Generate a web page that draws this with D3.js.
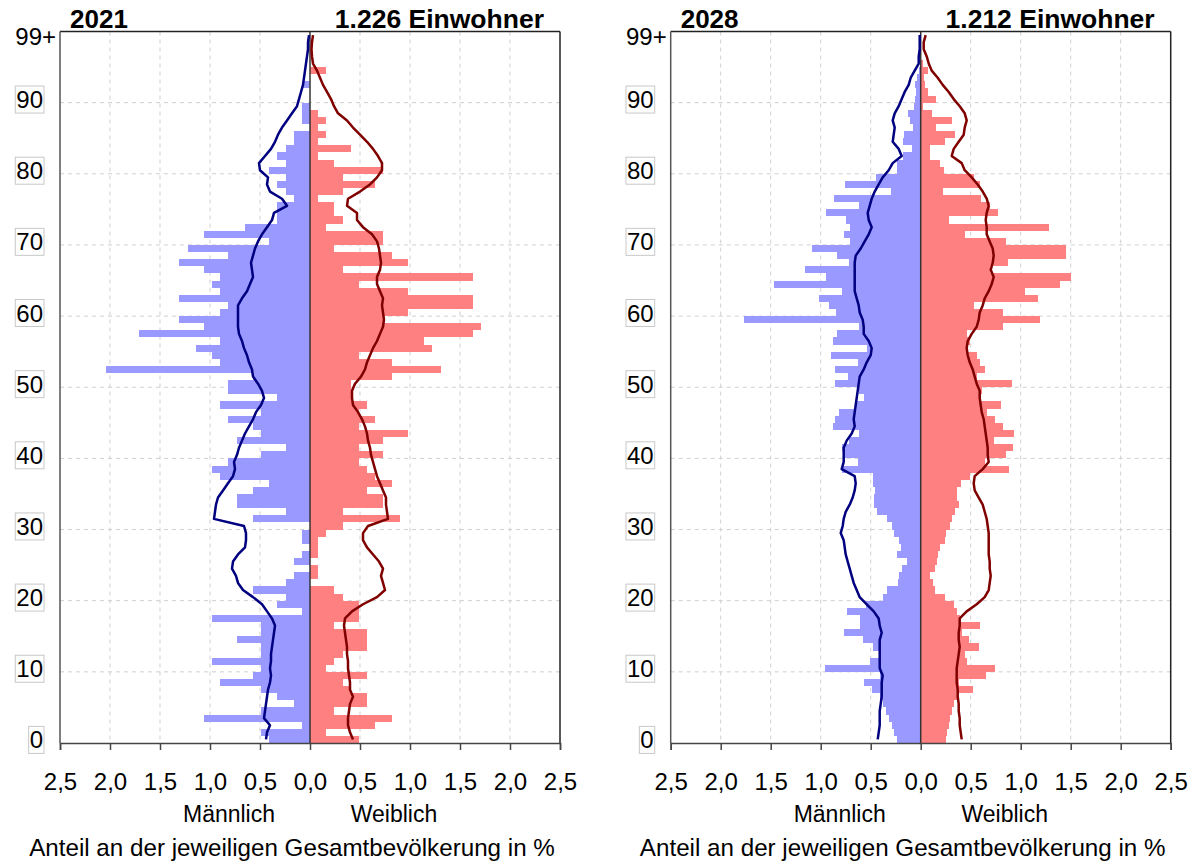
<!DOCTYPE html>
<html>
<head>
<meta charset="utf-8">
<script src="https://cdn.jsdelivr.net/npm/d3@7"></script>
<style>
  body { margin: 0; background: #fff; }
  text { font-family: "Liberation Sans", Arial, sans-serif; fill: #000; }
</style>
</head>
<body>
<div id="chart"></div>
<script>
// ages 0..99 (99 = 99+)
const ages = d3.range(0, 100);
const ageTicks = [0, 10, 20, 30, 40, 50, 60, 70, 80, 90];
const shareTicks = [-2.5, -2, -1.5, -1, -0.5, 0, 0.5, 1, 1.5, 2, 2.5];

// 2021: persons per age year (1.226 Einwohner)
const total2021 = 1226;
const male2021 = [
  5, 6, 1, 13, 6, 2, 4, 6, 11, 7,
  6, 12, 6, 6, 9, 6, 6, 12, 1, 4,
  3, 7, 3, 2, 0, 2, 1, 0, 1, 1,
  0, 7, 3, 9, 9, 7, 5, 11, 12, 10,
  6, 3, 9, 6, 7, 10, 6, 11, 4, 10,
  10, 7, 25, 11, 12, 14, 11, 21, 13, 16,
  11, 10, 16, 11, 12, 11, 13, 16, 10, 15,
  5, 13, 8, 4, 4, 4, 2, 3, 4, 3,
  5, 3, 4, 3, 2, 2, 0, 1, 1, 1,
  0, 0, 1, 0, 0, 0, 0, 0, 0, 0
];
const female2021 = [
  6, 2, 8, 10, 3, 7, 7, 5, 4, 7,
  2, 3, 4, 7, 7, 7, 3, 6, 6, 6,
  4, 3, 0, 1, 1, 0, 1, 1, 1, 2,
  4, 11, 4, 9, 9, 7, 10, 8, 7, 6,
  9, 6, 9, 12, 6, 8, 6, 7, 5, 5,
  5, 10, 16, 10, 6, 15, 14, 20, 21, 9,
  12, 20, 20, 12, 6, 20, 4, 12, 10, 3,
  9, 9, 2, 4, 3, 3, 1, 4, 8, 4,
  9, 3, 1, 5, 1, 2, 1, 2, 1, 0,
  0, 0, 0, 0, 2, 0, 0, 0, 0, 0
];
// comparison profile 2021 (share in %)
const refMale2021 = [
  0.44, 0.43, 0.40, 0.46, 0.45, 0.44, 0.43, 0.42, 0.40, 0.39,
  0.40, 0.39, 0.39, 0.38, 0.37, 0.36, 0.35, 0.38, 0.43, 0.48,
  0.57, 0.67, 0.72, 0.74, 0.78, 0.77, 0.72, 0.65, 0.64, 0.64,
  0.66, 0.96, 0.95, 0.94, 0.92, 0.87, 0.82, 0.77, 0.75, 0.76,
  0.73, 0.71, 0.68, 0.65, 0.61, 0.57, 0.54, 0.49, 0.46, 0.48,
  0.52, 0.57, 0.58, 0.61, 0.63, 0.66, 0.68, 0.71, 0.72, 0.72,
  0.72, 0.72, 0.68, 0.63, 0.60, 0.57, 0.58, 0.59, 0.57, 0.55,
  0.52, 0.48, 0.43, 0.38, 0.36, 0.23, 0.28, 0.40, 0.43, 0.42,
  0.50, 0.51, 0.45, 0.39, 0.35, 0.32, 0.28, 0.23, 0.18, 0.13,
  0.11, 0.09, 0.07, 0.06, 0.05, 0.04, 0.03, 0.02, 0.02, 0.01
];
const refFemale2021 = [
  0.43, 0.40, 0.38, 0.38, 0.39, 0.40, 0.43, 0.40, 0.40, 0.39,
  0.38, 0.38, 0.37, 0.37, 0.36, 0.35, 0.34, 0.35, 0.42, 0.53,
  0.67, 0.75, 0.73, 0.71, 0.73, 0.69, 0.63, 0.57, 0.53, 0.53,
  0.58, 0.78, 0.77, 0.76, 0.76, 0.73, 0.70, 0.67, 0.65, 0.63,
  0.61, 0.60, 0.58, 0.57, 0.55, 0.52, 0.48, 0.43, 0.42, 0.42,
  0.45, 0.51, 0.55, 0.57, 0.60, 0.63, 0.67, 0.70, 0.73, 0.74,
  0.73, 0.72, 0.73, 0.70, 0.67, 0.67, 0.70, 0.71, 0.70, 0.69,
  0.67, 0.62, 0.53, 0.47, 0.47, 0.37, 0.38, 0.50, 0.60, 0.67,
  0.72, 0.72, 0.68, 0.63, 0.57, 0.50, 0.43, 0.37, 0.28, 0.24,
  0.21, 0.17, 0.13, 0.10, 0.07, 0.03, 0.02, 0.015, 0.02, 0.03
];

// 2028: projected share in % (1.212 Einwohner)
const male2028 = [
  0.24, 0.27, 0.29, 0.32, 0.35, 0.38, 0.41, 0.49, 0.57, 0.41,
  0.96, 0.51, 0.42, 0.48, 0.58, 0.77, 0.61, 0.61, 0.74, 0.55,
  0.38, 0.34, 0.23, 0.22, 0.19, 0.14, 0.24, 0.20, 0.22, 0.27,
  0.29, 0.34, 0.44, 0.47, 0.47, 0.46, 0.48, 0.48, 0.79, 0.63,
  0.77, 0.79, 0.72, 0.62, 0.88, 0.86, 0.82, 0.66, 0.57, 0.62,
  0.86, 0.73, 0.86, 0.63, 0.90, 0.54, 0.88, 0.84, 0.62, 1.77,
  0.85, 0.92, 1.02, 0.79, 1.47, 0.95, 1.16, 0.72, 0.84, 1.09,
  0.71, 0.77, 0.71, 0.75, 0.95, 0.62, 0.87, 0.30, 0.76, 0.45,
  0.24, 0.24, 0.18, 0.09, 0.18, 0.17, 0.08, 0.11, 0.13, 0.07,
  0.06, 0.05, 0.06, 0.04, 0.02, 0.01, 0, 0, 0, 0
];
const female2028 = [
  0.25, 0.26, 0.28, 0.29, 0.31, 0.33, 0.36, 0.52, 0.38, 0.65,
  0.74, 0.46, 0.44, 0.58, 0.48, 0.41, 0.59, 0.39, 0.36, 0.33,
  0.24, 0.14, 0.12, 0.09, 0.14, 0.16, 0.17, 0.19, 0.24, 0.25,
  0.29, 0.31, 0.34, 0.38, 0.36, 0.36, 0.40, 0.49, 0.88, 0.64,
  0.85, 0.92, 0.73, 0.93, 0.82, 0.74, 0.66, 0.80, 0.60, 0.61,
  0.91, 0.56, 0.64, 0.59, 0.56, 0.46, 0.49, 0.46, 0.82, 1.19,
  0.82, 0.53, 1.17, 1.04, 1.39, 1.50, 0.69, 0.87, 1.45, 1.45,
  0.85, 0.44, 1.28, 0.28, 0.77, 0.69, 0.60, 0.22, 0.59, 0.53,
  0.23, 0.19, 0.09, 0.09, 0.24, 0.34, 0.15, 0.31, 0.11, 0.02,
  0.15, 0.07, 0.04, 0.03, 0.07, 0.02, 0, 0, 0, 0
];
const refMale2028 = [
  0.43, 0.42, 0.41, 0.41, 0.41, 0.40, 0.39, 0.39, 0.39, 0.38,
  0.41, 0.41, 0.41, 0.41, 0.41, 0.39, 0.41, 0.42, 0.47, 0.54,
  0.61, 0.64, 0.67, 0.69, 0.71, 0.73, 0.75, 0.76, 0.77, 0.80,
  0.78, 0.77, 0.75, 0.71, 0.68, 0.66, 0.65, 0.66, 0.79, 0.77,
  0.77, 0.77, 0.74, 0.69, 0.66, 0.67, 0.66, 0.65, 0.64, 0.63,
  0.62, 0.61, 0.57, 0.54, 0.50, 0.49, 0.52, 0.57, 0.57, 0.58,
  0.61, 0.62, 0.64, 0.66, 0.66, 0.66, 0.66, 0.66, 0.65, 0.60,
  0.56, 0.52, 0.49, 0.52, 0.53, 0.51, 0.49, 0.46, 0.42, 0.38,
  0.32, 0.28, 0.19, 0.22, 0.28, 0.27, 0.26, 0.28, 0.26, 0.22,
  0.19, 0.16, 0.12, 0.10, 0.06, 0.02, 0.02, 0.01, 0.01, 0.01
];
const refFemale2028 = [
  0.41, 0.40, 0.39, 0.39, 0.38, 0.38, 0.37, 0.37, 0.36, 0.36,
  0.36, 0.37, 0.38, 0.39, 0.38, 0.38, 0.39, 0.39, 0.46, 0.56,
  0.64, 0.68, 0.69, 0.70, 0.69, 0.69, 0.68, 0.68, 0.68, 0.68,
  0.67, 0.66, 0.64, 0.62, 0.58, 0.54, 0.53, 0.54, 0.62, 0.68,
  0.67, 0.67, 0.66, 0.65, 0.64, 0.63, 0.61, 0.60, 0.59, 0.59,
  0.56, 0.54, 0.52, 0.49, 0.47, 0.46, 0.47, 0.51, 0.56, 0.58,
  0.59, 0.62, 0.64, 0.68, 0.71, 0.73, 0.70, 0.72, 0.73, 0.72,
  0.69, 0.66, 0.66, 0.65, 0.66, 0.68, 0.66, 0.62, 0.57, 0.51,
  0.44, 0.41, 0.31, 0.33, 0.38, 0.43, 0.44, 0.46, 0.44, 0.39,
  0.33, 0.28, 0.22, 0.17, 0.11, 0.08, 0.06, 0.03, 0.03, 0.05
];

const width = 1200,
  height = 862;

const plotTop = 31.5,
  plotBottom = 743,
  plotWidth = 500;

const maleColor = '#9999ff',
  femaleColor = '#ff8080',
  maleLine = '#000080',
  femaleLine = '#800000';

const svg = d3.select('#chart')
  .append('svg')
  .attr('width', width)
  .attr('height', height);

const panels = [
  {
    left: 60,
    year: '2021',
    residents: '1.226 Einwohner',
    male: male2021.map(function (c) { return c / total2021 * 100; }),
    female: female2021.map(function (c) { return c / total2021 * 100; }),
    refMale: refMale2021,
    refFemale: refFemale2021
  },
  {
    left: 670.7,
    year: '2028',
    residents: '1.212 Einwohner',
    male: male2028,
    female: female2028,
    refMale: refMale2028,
    refFemale: refFemale2028
  }
];

panels.forEach(drawPyramid);

///////////////////////////////////////////////////////////////////////////
//////////////////////////// One pyramid //////////////////////////////////
///////////////////////////////////////////////////////////////////////////

function drawPyramid(p) {

  const x = d3.scaleLinear()
    .domain([-2.5, 2.5])
    .range([p.left, p.left + plotWidth]);

  const y = d3.scaleLinear()
    .domain([0, 100])
    .range([plotBottom, plotTop]);

  const cx = x(0);
  const g = svg.append('g');

  //Dashed grid
  g.selectAll('.vgrid')
    .data(shareTicks.filter(function (d) { return d !== 0 && Math.abs(d) !== 2.5; }))
    .enter().append('line')
    .attr('x1', function (d) { return x(d); })
    .attr('x2', function (d) { return x(d); })
    .attr('y1', plotTop)
    .attr('y2', plotBottom)
    .attr('stroke', '#cfcfcf')
    .attr('stroke-width', 1)
    .attr('stroke-dasharray', '4,4');

  g.selectAll('.hgrid')
    .data(ageTicks.filter(function (d) { return d > 0; }))
    .enter().append('line')
    .attr('x1', x(-2.5))
    .attr('x2', x(2.5))
    .attr('y1', function (d) { return y(d); })
    .attr('y2', function (d) { return y(d); })
    .attr('stroke', '#cfcfcf')
    .attr('stroke-width', 1)
    .attr('stroke-dasharray', '4,4');

  //Bars
  g.selectAll('.maleBar')
    .data(ages)
    .enter().append('rect')
    .attr('x', function (d) { return x(-p.male[d]); })
    .attr('width', function (d) { return cx - x(-p.male[d]); })
    .attr('y', function (d) { return y(d + 1); })
    .attr('height', function (d) { return y(d) - y(d + 1); })
    .attr('shape-rendering', 'crispEdges')
    .style('fill', maleColor);

  g.selectAll('.femaleBar')
    .data(ages)
    .enter().append('rect')
    .attr('x', cx)
    .attr('width', function (d) { return x(p.female[d]) - cx; })
    .attr('y', function (d) { return y(d + 1); })
    .attr('height', function (d) { return y(d) - y(d + 1); })
    .attr('shape-rendering', 'crispEdges')
    .style('fill', femaleColor);

  //Center line
  g.append('line')
    .attr('x1', cx).attr('x2', cx)
    .attr('y1', plotTop).attr('y2', plotBottom)
    .attr('stroke', '#333')
    .attr('stroke-width', 1.5);

  //Comparison lines
  const maleLinePath = d3.line()
    .x(function (d) { return x(-p.refMale[d]); })
    .y(function (d) { return y(d + 0.5); });

  const femaleLinePath = d3.line()
    .x(function (d) { return x(p.refFemale[d]); })
    .y(function (d) { return y(d + 0.5); });

  g.append('path')
    .datum(ages)
    .attr('d', maleLinePath)
    .attr('fill', 'none')
    .attr('stroke', maleLine)
    .attr('stroke-width', 2.5)
    .attr('stroke-linejoin', 'round');

  g.append('path')
    .datum(ages)
    .attr('d', femaleLinePath)
    .attr('fill', 'none')
    .attr('stroke', femaleLine)
    .attr('stroke-width', 2.5)
    .attr('stroke-linejoin', 'round');

  //Frame
  g.append('line')
    .attr('x1', x(-2.5)).attr('x2', x(2.5))
    .attr('y1', plotTop).attr('y2', plotTop)
    .attr('stroke', '#222').attr('stroke-width', 1.5);
  g.append('line')
    .attr('x1', x(2.5)).attr('x2', x(2.5))
    .attr('y1', plotTop).attr('y2', plotBottom)
    .attr('stroke', '#222').attr('stroke-width', 1.5);
  g.append('line')
    .attr('x1', x(-2.5)).attr('x2', x(-2.5))
    .attr('y1', plotTop).attr('y2', plotBottom)
    .attr('stroke', '#555').attr('stroke-width', 1.5);

  //Bottom axis
  const xAxis = d3.axisBottom(x)
    .tickValues(shareTicks)
    .tickSize(7)
    .tickPadding(23)
    .tickFormat(function (d) { return d3.format('.1f')(Math.abs(d)).replace('.', ','); });

  const axisG = g.append('g')
    .attr('transform', 'translate(0,' + plotBottom + ')')
    .call(xAxis);
  axisG.select('.domain').attr('stroke', '#444').attr('stroke-width', 1.5);
  axisG.selectAll('.tick line').attr('stroke', '#444').attr('stroke-width', 1.5);
  axisG.selectAll('.tick text')
    .attr('fill', '#000')
    .style('font-size', '24px')
    .style('font-family', '"Liberation Sans", Arial, sans-serif');

  //Age labels with light boxes
  const labelX = p.left - 17;
  ageTicks.forEach(function (a) {
    const t = g.append('text')
      .attr('x', labelX)
      .attr('y', y(a) - 3)
      .attr('dy', '0.35em')
      .attr('text-anchor', 'end')
      .style('font-size', '24px')
      .text(a);
    const b = t.node().getBBox();
    g.append('rect')
      .attr('x', b.x - 1)
      .attr('y', b.y)
      .attr('width', b.width + 2)
      .attr('height', b.height)
      .attr('fill', 'none')
      .attr('stroke', '#c8c8c8')
      .attr('stroke-width', 1);
  });

  g.append('text')
    .attr('x', p.left - 4)
    .attr('y', y(100) + 5.5)
    .attr('dy', '0.35em')
    .attr('text-anchor', 'end')
    .style('font-size', '24px')
    .text('99+');

  //Titles
  g.append('text')
    .attr('x', cx - 240)
    .attr('y', 28)
    .style('font-size', '26px')
    .style('font-weight', 'bold')
    .text(p.year);

  g.append('text')
    .attr('x', cx + 234)
    .attr('y', 28)
    .attr('text-anchor', 'end')
    .style('font-size', '26.5px')
    .style('font-weight', 'bold')
    .text(p.residents);

  //Axis captions
  g.append('text')
    .attr('x', cx - 81)
    .attr('y', 822)
    .attr('text-anchor', 'middle')
    .style('font-size', '23px')
    .text('Männlich');

  g.append('text')
    .attr('x', cx + 84)
    .attr('y', 822)
    .attr('text-anchor', 'middle')
    .style('font-size', '23px')
    .text('Weiblich');

  g.append('text')
    .attr('x', cx - 18)
    .attr('y', 856)
    .attr('text-anchor', 'middle')
    .style('font-size', '24.2px')
    .text('Anteil an der jeweiligen Gesamtbevölkerung in %');

} //drawPyramid
</script>
</body>
</html>
